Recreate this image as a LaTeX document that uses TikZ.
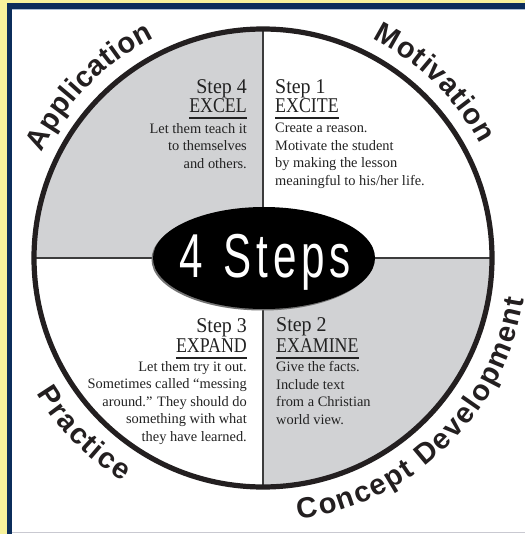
\documentclass[tikz,border=0pt]{standalone}
\usepackage{fontspec}
\setmainfont{Liberation Serif}
\newfontfamily\arclabelfamily{Liberation Sans}
\newfontfamily\stepsbigfamily[FakeStretch=0.68]{Liberation Sans}
\newfontfamily\headstepfamily[FakeStretch=0.95]{Liberation Serif}
\newfontfamily\headnamefamily[FakeStretch=0.85]{Liberation Serif}
\newcommand\myarcfont{\arclabelfamily\bfseries\fontsize{29}{33}\selectfont}
\usetikzlibrary{decorations.text}
\definecolor{paleyellow}{HTML}{F7F29C}
\definecolor{navyframe}{HTML}{0B2D5B}
\definecolor{framelight}{HTML}{A9BCD3}
\definecolor{quadgray}{HTML}{D1D2D4}
\definecolor{inkdark}{HTML}{231F20}
\definecolor{textdark}{HTML}{222222}
\definecolor{dividergray}{HTML}{3C3C3C}
\definecolor{bottomline}{HTML}{C9C9D1}
\begin{document}
\begin{tikzpicture}[x=1pt,y=1pt,
  ringline/.style={draw=inkdark, line width=5.2pt},
  dividerline/.style={draw=dividergray, line width=1.3pt},
  headstep/.style={inner sep=0pt, text=textdark, font=\headstepfamily\fontsize{21}{24}\selectfont},
  headname/.style={inner sep=0pt, text=textdark, font=\headnamefamily\fontsize{21}{24}\selectfont},
  bodytext/.style={inner sep=0pt, text=textdark, font=\fontsize{14.4}{17.5}\selectfont},
  uline/.style={draw=textdark, line width=1.4pt},
  arclabel/.style={decorate, decoration={text along path, text align={fit to path}, text color=inkdark}}
]
\useasboundingbox (0,0) rectangle (525,-534);
% frame
\fill[white] (0,0) rectangle (525,-534);
\fill[paleyellow] (0,0) rectangle (525,-3.3);
\fill[paleyellow] (0,0) rectangle (7,-534);
\fill[navyframe] (7,-3.3) rectangle (525,-9);
\fill[navyframe] (7,-3.3) rectangle (12,-534);
\fill[framelight] (12,-9) rectangle (525,-10);
\fill[bottomline] (12,-532) rectangle (525,-533.2);
% circle
\coordinate (C) at (263,-258);
\fill[quadgray] (C) -- ++(180:229pt) arc[start angle=180, end angle=90, radius=229pt] -- cycle;
\fill[quadgray] (C) -- ++(0:229pt) arc[start angle=0, end angle=-90, radius=229pt] -- cycle;
\draw[dividerline] (C) ++(0,229) -- ++(0,-458);
\draw[dividerline] (C) ++(-229,0) -- ++(458,0);
\draw[ringline] (C) circle[radius=229pt];
% centre ellipse
\fill[black!55] (262.5,-259.5) ellipse[x radius=111pt, y radius=51pt];
\fill[black] (264,-258) ellipse[x radius=111pt, y radius=51pt];
\node[anchor=base, inner sep=0pt, text=white, font=\stepsbigfamily\fontsize{62}{62}\selectfont] (title) at (265,-277)
  {4\kern4.8pt\ \kern4.8pt S\kern4.8pt t\kern4.8pt e\kern4.8pt p\kern4.8pt s};
% arc labels
{\myarcfont
\path[arclabel, decoration={text={Application}}]
  (C) ++(154.4:245pt) arc[start angle=154.4, end angle=116.3, radius=245pt];
\path[arclabel, decoration={text={Motivation}}]
  (C) ++(63.4:245pt) arc[start angle=63.4, end angle=27.7, radius=245pt];
\path[arclabel, decoration={text={Practice}}]
  (C) ++(210.9:264pt) arc[start angle=210.9, end angle=237.9, radius=264pt];
\path[arclabel, decoration={text={Concept Development}}]
  (C) ++(277.8:264pt) arc[start angle=277.8, end angle=351, radius=264pt];
}
% Step 4
\node[headstep, anchor=base east] (s4step) at (247,-93.5) {Step 4};
\node[headname, anchor=base east] (s4name) at (247,-113) {EXCEL};
\draw[uline] ([yshift=-5pt]s4name.base west) -- ([yshift=-5pt]s4name.base east);
\node[bodytext, anchor=north east, align=right] (s4body) at (247,-123.2)
  {Let them teach it\\to themselves\\and others.};
% Step 1
\node[headstep, anchor=base west] (s1step) at (275,-93.5) {Step 1};
\node[headname, anchor=base west] (s1name) at (275,-113) {EXCITE};
\draw[uline] ([yshift=-5pt]s1name.base west) -- ([yshift=-5pt]s1name.base east);
\node[bodytext, anchor=north west, align=left] (s1body) at (275,-123.2)
  {Create a reason.\\Motivate the student\\by making the lesson\\meaningful to his/her life.};
% Step 3
\node[headstep, anchor=base east] (s3step) at (247,-332) {Step 3};
\node[headname, anchor=base east] (s3name) at (247,-352) {EXPAND};
\draw[uline] ([yshift=-6pt]s3name.base west) -- ([yshift=-6pt]s3name.base east);
\node[bodytext, anchor=north east, align=right] (s3body) at (247,-361.2)
  {Let them try it out.\\Sometimes called “messing\\around.” They should do\\something with what\\they have learned.};
% Step 2
\node[headstep, anchor=base west] (s2step) at (276,-331.5) {Step 2};
\node[headname, anchor=base west] (s2name) at (276,-352) {EXAMINE};
\draw[uline] ([yshift=-6pt]s2name.base west) -- ([yshift=-6pt]s2name.base east);
\node[bodytext, anchor=north west, align=left] (s2body) at (276,-361.2)
  {Give the facts.\\Include text\\from a Christian\\world view.};
\end{tikzpicture}
\end{document}
